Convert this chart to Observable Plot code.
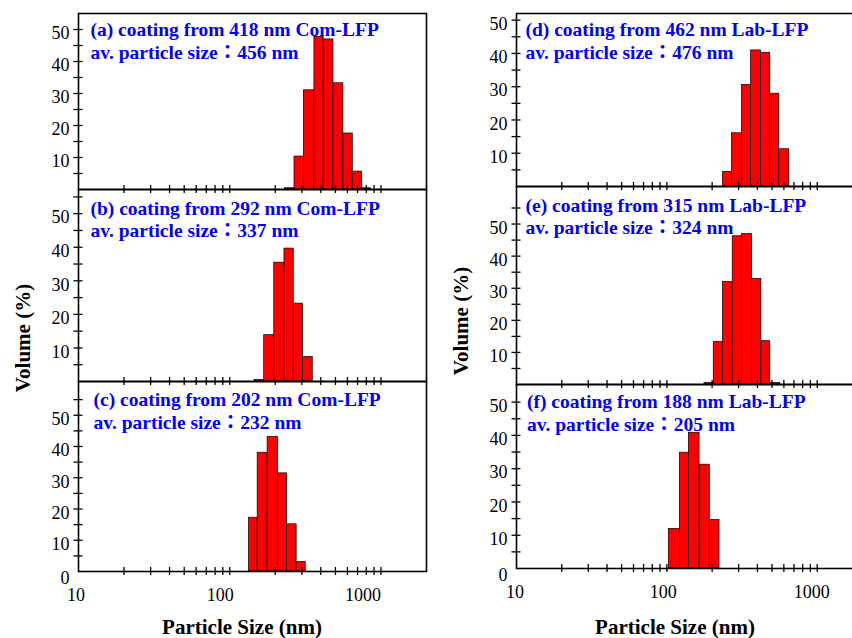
<!DOCTYPE html>
<html>
<head>
<meta charset="utf-8">
<script src="https://cdn.jsdelivr.net/npm/d3@7"></script>
<script src="https://cdn.jsdelivr.net/npm/@observablehq/plot@0.6"></script>
<style>
  html, body { margin: 0; padding: 0; background: #fff; overflow: hidden; }
  #fig { position: relative; width: 852px; height: 638px; overflow: hidden;
         font-family: "Liberation Serif", "Times New Roman", "Noto Sans CJK TC", serif; }
  #fig svg { position: absolute; overflow: visible; }
  .axis-title { position: absolute; font-weight: bold; font-size: 21px; line-height: 21px;
                color: #000; white-space: nowrap; }
</style>
</head>
<body>
<div id="fig"></div>
<script>
// Volume-weighted size distributions: bin edges (nm) and volume (%) per bin
const aEdges  = [231, 268, 309, 363, 418, 485, 564, 651, 750, 860];
const aVolume = [0.4, 10.3, 31.0, 47.7, 46.9, 33.2, 17.5, 5.6, 0.4];

const bEdges  = [146, 169, 197, 230, 265, 305, 354];
const bVolume = [0.5, 13.8, 35.4, 39.6, 23.2, 7.3];

const cEdges  = [134, 153, 178, 208, 239, 277, 318];
const cVolume = [17.2, 38.0, 43.1, 31.4, 15.1, 3.1];

const dEdges  = [236, 271, 316, 363, 423, 487, 559, 652];
const dVolume = [4.4, 16.0, 30.5, 40.9, 40.2, 27.9, 11.2];

const eEdges  = [178, 205, 236, 274, 316, 368, 425, 487, 568];
const eVolume = [0.5, 13.2, 31.9, 46.2, 46.9, 32.9, 13.5, 0.5];

const fEdges  = [103, 122, 140, 165, 193, 224];
const fVolume = [11.9, 34.8, 40.8, 31.2, 14.6];

// Panel captions
const captions = [
  "(a) coating from 418 nm Com-LFP", "(b) coating from 292 nm Com-LFP", "(c) coating from 202 nm Com-LFP",
  "(d) coating from 462 nm Lab-LFP", "(e) coating from 315 nm Lab-LFP", "(f) coating from 188 nm Lab-LFP"
];
const avgSizes = ["456", "337", "232", "476", "324", "205"];

// Axis ticks
const sizeTicks = [20, 30, 40, 50, 60, 70, 80, 90, 100, 200, 300, 400, 500, 600, 700, 800, 900, 1000];
const sizeLabels = [10, 100, 1000];
const volumeTicks = [5, 10, 15, 20, 25, 30, 35, 40, 45, 50, 55];
const volumeLabels = [10, 20, 30, 40, 50];
const sizeDomain = [10, 2000];

// Layout of the two columns of stacked panels
const columns = [
  {x: 78, w: 348, labelShift: [-2.5, -9.5, -18], titleX: 242, volY: 338, volX: 23},
  {x: 516, w: 346, labelShift: [-1.5, -3.5, -5.5], titleX: 675, volY: 321, volX: 461}
];

const panels = [
  {col: 0, top: 13,  bottom: 189, yMax: 55, edges: aEdges, volume: aVolume, k: 0, tdx: 12, tdy: 7,   last: false},
  {col: 0, top: 189, bottom: 381, yMax: 57.2, edges: bEdges, volume: bVolume, k: 1, tdx: 12, tdy: 9.5, last: false},
  {col: 0, top: 381, bottom: 571, yMax: 60.8, edges: cEdges, volume: cVolume, k: 2, tdx: 15, tdy: 9.2, last: true},
  {col: 1, top: 13,  bottom: 186, yMax: 52, edges: dEdges, volume: dVolume, k: 3, tdx: 9,  tdy: 7,   last: false},
  {col: 1, top: 186, bottom: 384, yMax: 61.7, edges: eEdges, volume: eVolume, k: 4, tdx: 9,  tdy: 9.8, last: false},
  {col: 1, top: 384, bottom: 568, yMax: 55.3, edges: fEdges, volume: fVolume, k: 5, tdx: 10.5, tdy: 8, last: true}
];

const fig = document.getElementById("fig");
const serif = '"Liberation Serif", "Times New Roman", "Noto Sans CJK TC", serif';

for (const p of panels) {
  const col = columns[p.col];
  const mL = 70, mR = 10, mT = 8, mB = p.last ? 40 : 8;
  const h = p.bottom - p.top;
  const bars = p.volume.map((v, i) => ({x1: p.edges[i], x2: p.edges[i + 1], v}));
  const ticksY = volumeTicks.filter(t => t < p.yMax - 0.6);

  const marks = [
    Plot.rect(bars, {x1: "x1", x2: "x2", y1: 0, y2: "v", fill: "#ff0000", stroke: "#000", strokeWidth: 0.7}),
    // y ticks crossing the left axis
    Plot.axisY({ticks: ticksY, tickSize: 9, dx: 4.5, tickFormat: () => "", label: null, strokeWidth: 1.3}),
    Plot.axisY({ticks: volumeLabels, tickSize: 0, tickPadding: 9, dy: 4, fontSize: 18, label: null,
                tickFormat: d => String(d)}),
    // x ticks crossing the bottom axis
    Plot.axisX({ticks: sizeTicks, tickSize: 8, dy: -4, tickFormat: () => "", label: null, strokeWidth: 1.3}),
    Plot.frame({stroke: "#000", strokeWidth: 1.6}),
    Plot.text([`${captions[p.k]}\nav. particle size：${avgSizes[p.k]} nm`], {
      text: d => d, frameAnchor: "top-left", textAnchor: "start", lineAnchor: "top",
      dx: p.tdx, dy: p.tdy, lineHeight: 1.14, fontSize: 19.5, fontWeight: "bold", fill: "#0000ff"
    })
  ];
  if (p.last) {
    marks.push(Plot.axisY({ticks: [0], tickSize: 0, tickPadding: 9, dy: 6.5, fontSize: 18, label: null,
                           tickFormat: d => String(d)}));
    sizeLabels.forEach((t, i) => {
      marks.push(Plot.axisX({ticks: [t], tickSize: 0, tickPadding: 17, dx: col.labelShift[i], fontSize: 18,
                             label: null, tickFormat: d => String(d)}));
    });
  }

  const svg = Plot.plot({
    width: mL + col.w + mR,
    height: mT + h + mB,
    marginLeft: mL, marginRight: mR, marginTop: mT, marginBottom: mB,
    x: {type: "log", domain: sizeDomain},
    y: {domain: [0, p.yMax]},
    style: {fontFamily: serif, fontSize: "18px", color: "#000", background: "transparent", overflow: "visible"},
    marks
  });
  svg.style.left = (col.x - mL) + "px";
  svg.style.top = (p.top - mT) + "px";
  fig.appendChild(svg);
}

// Axis titles
for (const col of columns) {
  const xt = document.createElement("div");
  xt.className = "axis-title";
  xt.textContent = "Particle Size (nm)";
  xt.style.left = col.titleX + "px";
  xt.style.top = "617px";
  xt.style.transform = "translateX(-50%)";
  fig.appendChild(xt);

  const yt = document.createElement("div");
  yt.className = "axis-title";
  yt.textContent = "Volume (%)";
  yt.style.left = col.volX + "px";
  yt.style.top = col.volY + "px";
  yt.style.transform = "translate(-50%, -50%) rotate(-90deg)";
  fig.appendChild(yt);
}
</script>
</body>
</html>
